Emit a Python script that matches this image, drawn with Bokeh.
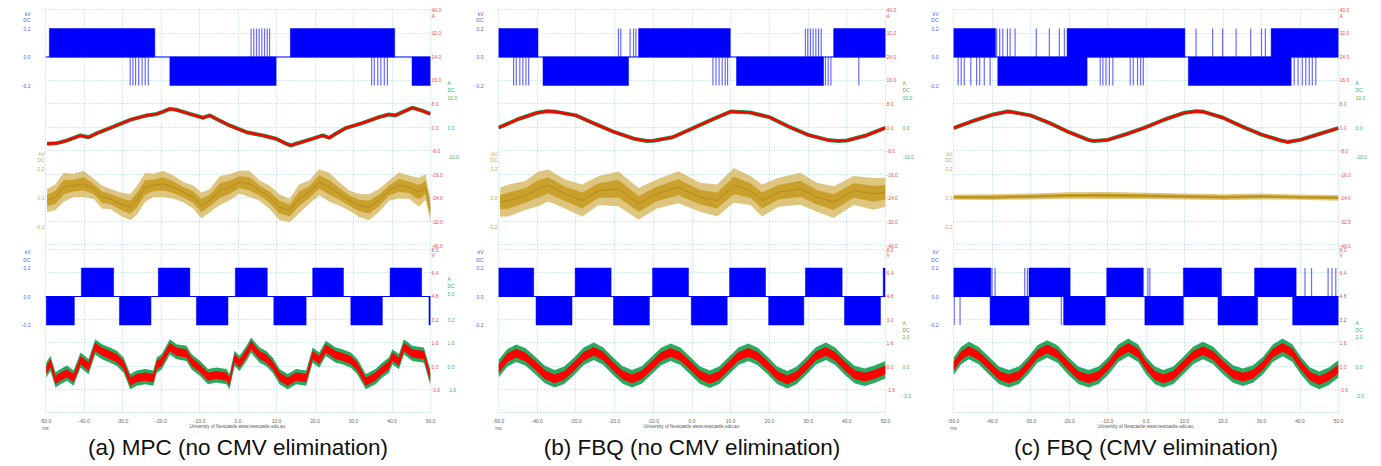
import numpy as np
from bokeh.plotting import figure
from bokeh.layouts import row
from bokeh.models import (Range1d, FixedTicker, PrintfTickFormatter, LinearAxis, Span, Grid,
                          Title)
from bokeh.embed import file_html
from bokeh.resources import INLINE

# ---------------------------------------------------------------- data
X_TICKS = [-50, -40, -30, -20, -10, 0, 10, 20, 30, 40, 50]
CAPTIONS = ["(a) MPC (no CMV elimination)", "(b) FBQ (no CMV elimination)",
            "(c) FBQ (CMV elimination)"]
KV_TICKS = [0.2, 0.0, -0.2]
RED_TOP_TICKS = [40.0, 32.0, 24.0, 16.0, 8.0, 0.0, -8.0, -16.0, -24.0, -32.0, -40.0]
RED_BOT_TICKS = [8.0, 6.4, 4.8, 3.2, 1.6, 0.0, -1.6, -3.2]
GREEN_TOP_TICKS = [10.0, 0.0, -10.0]
A_GREEN_BOT_TICKS = [5.0, 3.2, 1.6, 0.0, -1.6]
B_GREEN_BOT_TICKS = [2.0, 0.0, -2.0]
C_GREEN_BOT_TICKS = [2.0, 0.0, -2.0]

# ---- panel (a) MPC
A_CMV1_T0 = [-49.0, -17.7, 13.6, 45.2]
A_CMV1_T1 = [-21.6, 9.9, 40.7, 50.0]
A_CMV1_LV = [0.2, -0.2, 0.2, -0.2]
A_CMV1_SPK_T = [-28.0, -27.3, -26.6, -25.8, -24.9, -24.1, -23.3, 3.4, 4.1, 4.8, 5.5, 6.2, 6.9,
                7.6, 8.2, 34.7, 35.4, 36.3, 37.1, 38.0, 38.8]
A_CMV1_SPK_LV = [-0.2, -0.2, -0.2, -0.2, -0.2, -0.2, -0.2, 0.2, 0.2, 0.2, 0.2, 0.2, 0.2, 0.2, 0.2,
                 -0.2, -0.2, -0.2, -0.2, -0.2, -0.2]
A_IA_T = [-49.6, -47.0, -44.4, -40.9, -38.8, -36.6, -32.3, -28.0, -23.7, -21.1, -19.4, -17.7, -16.0,
          -12.5, -9.1, -7.3, -5.6, -2.2, 2.2, 6.5, 9.9, 12.5, 13.8, 15.1, 19.4, 22.0, 23.7, 25.4,
          28.0, 32.3, 36.6, 39.2, 40.9, 42.7, 45.3, 47.8, 50.0]
A_IA = [-5.5, -5.3, -4.4, -2.7, -3.3, -1.9, 0.3, 2.6, 4.1, 4.6, 5.4, 6.3, 6.0, 4.6, 3.3, 4.1, 2.9,
        0.7, -1.6, -2.7, -3.8, -5.5, -6.1, -5.5, -3.8, -2.7, -3.5, -2.1, -0.2, 1.5, 3.5, 4.4, 4.1,
        5.2, 6.7, 5.7, 4.6]
A_VG_T = [-49.6, -47.4, -45.3, -42.7, -40.1, -37.5, -35.3, -33.2, -30.6, -28.0, -26.3, -24.1, -22.0,
          -19.4, -16.8, -14.2, -11.6, -9.5, -7.3, -4.7, -2.2, 0.4, 3.0, 5.6, 8.2, 10.8, 13.4, 15.9,
          18.5, 21.1, 23.7, 26.3, 28.9, 31.5, 34.0, 36.6, 39.2, 41.8, 44.4, 47.0, 48.7, 50.0]
A_VG = [-0.021, 0.002, 0.071, 0.083, 0.094, 0.060, 0.002, -0.009, -0.044, -0.067,
        -0.021, 0.071, 0.083, 0.094, 0.071, 0.037, 0.002, -0.055, -0.021, 0.048,
        0.071, 0.106, 0.094, 0.048, 0.002, -0.067, -0.090, -0.009, 0.037, 0.106,
        0.071, 0.025, -0.021, -0.055, -0.067, -0.021, 0.048, 0.083, 0.071, 0.037,
        0.071, -0.090]
A_VG_SPREAD = [0.08, 0.09, 0.10, 0.08, 0.09, 0.07, 0.08, 0.07, 0.08, 0.09,
               0.10, 0.10, 0.08, 0.09, 0.08, 0.07, 0.08, 0.09, 0.08, 0.10,
               0.09, 0.08, 0.09, 0.07, 0.08, 0.09, 0.08, 0.10, 0.08, 0.09,
               0.10, 0.08, 0.07, 0.08, 0.09, 0.08, 0.07, 0.09, 0.08, 0.10,
               0.09, 0.08]
A_CMV2_T0 = [-49.8, -40.7, -30.8, -20.7, -10.8, -0.7, 9.3, 19.4, 29.3, 39.5, 49.6]
A_CMV2_T1 = [-42.5, -32.3, -22.6, -12.5, -2.6, 7.6, 17.7, 27.4, 37.5, 47.7, 50.0]
A_CMV2_LV = [-0.2, 0.2, -0.2, 0.2, -0.2, 0.2, -0.2, 0.2, -0.2, 0.2, -0.2]
A_CMV2_SPK_T = []
A_CMV2_SPK_LV = []
A_IB_T = [-49.8, -48.7, -47.4, -46.1, -44.4, -42.7, -40.9, -38.8, -37.1, -35.3,
          -33.2, -31.5, -29.7, -28.0, -26.3, -24.1, -22.0, -21.1, -19.8, -17.7,
          -16.0, -13.4, -12.1, -9.9, -7.8, -5.6, -3.0, -2.2, -0.9, 0.4,
          2.2, 3.4, 5.6, 7.3, 9.0, 10.8, 12.9, 15.1, 17.7, 19.4,
          21.1, 22.8, 25.4, 27.1, 29.3, 31.0, 33.2, 35.7, 37.5, 39.2,
          40.1, 41.8, 43.1, 45.3, 48.3, 50.0]
A_IB = [-0.24, 0.22, -0.92, -0.69, -0.46, -0.80, 0.44, -0.01, 1.35, 1.01,
        0.78, 0.56, 0.10, -1.03, -0.80, -0.69, -0.80, 0.10, 0.33, 1.35,
        1.01, 0.90, 0.33, -0.12, -0.69, -0.58, -0.69, -1.03, 0.56, 0.22,
        0.90, 1.46, 0.78, 0.56, 0.10, -0.69, -1.03, -0.69, -0.80, 0.78,
        0.44, 1.24, 0.78, 0.67, 0.44, -0.01, -1.03, -0.69, -0.24, 0.10,
        0.67, 0.33, 1.35, 0.90, 0.78, -0.80]
A_IB_RED_SPREAD = 0.28
A_IB_GREEN_SPREAD = 0.52

# ---- panel (b) FBQ, no CMV elimination
B_CMV1_T0 = [-50.0, -38.5, -13.8, 11.5, 36.6]
B_CMV1_T1 = [-39.8, -16.4, 9.9, 34.0, 50.0]
B_CMV1_LV = [0.2, -0.2, 0.2, -0.2, 0.2]
B_CMV1_SPK_T = [-46.1, -45.4, -44.5, -43.7, -42.9, -42.2, -19.0, -18.4, -16.0, -15.1, -14.5,
                5.4, 6.2, 7.0, 7.8, 8.6, 9.2, 29.3, 29.9, 30.6, 31.3, 32.0, 32.7, 33.4,
                34.5, 35.2, 35.9, 43.1]
B_CMV1_SPK_LV = [-0.2, -0.2, -0.2, -0.2, -0.2, -0.2, 0.2, 0.2, 0.2, 0.2, 0.2,
                 -0.2, -0.2, -0.2, -0.2, -0.2, -0.2, 0.2, 0.2, 0.2, 0.2, 0.2, 0.2, 0.2,
                 -0.2, -0.2, -0.2, -0.2]
B_IA_T = [-50, -45, -40, -37.5, -35, -30, -25, -20, -15, -11.6, -10, -5, 0, 5, 10, 15, 20, 25,
          30, 35, 37.9, 40, 45, 50]
B_IA = [-0.1, 2.8, 5.0, 5.5, 5.3, 4.1, 1.2, -1.6, -3.8, -4.6, -4.5, -3.3, -0.4, 2.6, 5.4, 5.1,
        3.5, 0.3, -2.5, -4.2, -4.6, -4.4, -2.7, -0.1]
B_VG_T = [-49.6, -47.4, -43.1, -39.7, -37.1, -32.8, -28.4, -24.1, -19.0, -13.8, -9.1, -3.5, 2.1,
          6.5, 10.8, 15.1, 18.1, 22.4, 28.0, 32.3, 36.6, 41.8, 47.0, 50.0]
B_VG = [-0.032, -0.021, 0.014, 0.060, 0.083, 0.025, -0.021, 0.048, 0.060, -0.044, 0.025, 0.071,
        0.002, -0.021, 0.083, 0.048, -0.021, 0.037, 0.060, 0.002, -0.032, 0.048, 0.025, 0.037]
B_VG_SPREAD = [0.10, 0.11, 0.10, 0.12, 0.11, 0.10, 0.11, 0.10, 0.12, 0.11, 0.10, 0.11, 0.10,
               0.11, 0.12, 0.10, 0.11, 0.10, 0.11, 0.10, 0.11, 0.10, 0.11, 0.10]
B_CMV2_T0 = [-50.0, -40.3, -30.2, -20.3, -10.2, -0.2, 9.7, 19.8, 29.3, 39.4, 49.4]
B_CMV2_T1 = [-40.9, -31.0, -20.9, -11.0, -0.9, 9.1, 19.0, 28.9, 38.8, 48.7, 49.9]
B_CMV2_LV = [0.2, -0.2, 0.2, -0.2, 0.2, -0.2, 0.2, -0.2, 0.2, -0.2, 0.2]
B_CMV2_SPK_T = []
B_CMV2_SPK_LV = []
B_IB_T = [-50, -47.7, -45.4, -43, -40.5, -38, -35.5, -33, -30.5, -28, -25.4, -23, -20.5, -18,
          -15.5, -13, -10.5, -8, -5.5, -3, -0.5, 2, 4.6, 7, 9.5, 12, 14.6, 17, 19.6, 22, 24.6,
          27, 29.6, 32, 34.6, 37, 39.6, 42, 44.6, 47, 50]
B_IB = [-0.16, 0.6, 0.91, 0.65, 0.07, -0.55, -0.84, -0.6, 0.0, 0.7, 1.04, 0.72, 0.05, -0.57,
        -0.84, -0.58, 0.05, 0.68, 0.97, 0.7, 0.07, -0.58, -0.88, -0.6, 0.05, 0.7, 0.97, 0.68,
        0.05, -0.6, -0.91, -0.62, 0.05, 0.72, 1.04, 0.7, 0.0, -0.55, -0.73, -0.55, -0.23]
B_IB_RED_SPREAD = 0.30
B_IB_GREEN_SPREAD = 0.60

# ---- panel (c) FBQ, CMV elimination
C_CMV1_T0 = [-50.0, -38.5, -20.5, 11.0, 32.5]
C_CMV1_T1 = [-39.1, -15.3, 10.1, 37.7, 50.0]
C_CMV1_LV = [0.2, -0.2, 0.2, -0.2, 0.2]
C_CMV1_SPK_T = [-48.8, -48.0, -47.2, -45.5, -44.0, -43.2, -42.0, -40.5, -38.8, -38.0, -37.2,
                -36.0, -35.3, -34.0, -28.5, -25.1, -22.5, -21.2, -11.9, -11.2, -10.4, -9.5,
                -8.6, -4.1, -3.3, -2.2, -1.4, -0.7, 13.0, 17.3, 19.9, 23.4, 27.2, 30.0, 31.0,
                38.5, 39.5, 40.6, 41.5, 42.4, 43.2, 44.1]
C_CMV1_SPK_LV = [-0.2, -0.2, -0.2, -0.2, -0.2, -0.2, -0.2, -0.2, 0.2, 0.2, 0.2,
                 0.2, 0.2, 0.2, 0.2, 0.2, 0.2, 0.2, -0.2, -0.2, -0.2, -0.2,
                 -0.2, -0.2, -0.2, -0.2, -0.2, -0.2, 0.2, 0.2, 0.2, 0.2, 0.2, 0.2, 0.2,
                 -0.2, -0.2, -0.2, -0.2, -0.2, -0.2, -0.2]
C_IA_T = [-50, -45, -40, -36, -35, -30, -25, -20, -15, -13.6, -10, -5, 0, 5, 10, 13.1, 15, 20,
          25, 30, 35, 36.8, 40, 45, 50]
C_IA = [-0.2, 2.2, 4.3, 5.4, 5.3, 4.1, 1.5, -1.6, -4.2, -4.6, -4.2, -2.2, 0.1, 2.8, 5.0, 5.5,
        5.3, 3.3, 0.3, -2.4, -4.4, -4.9, -4.2, -2.2, -0.2]
C_VG_T = [-50, -40, -30, -20, -10, 0, 10, 20, 30, 40, 50]
C_VG = [0.002, 0.002, 0.007, 0.014, 0.014, 0.011, 0.007, 0.002, 0.007, 0.002, -0.002]
C_VG_SPREAD = [0.018, 0.020, 0.020, 0.022, 0.024, 0.022, 0.020, 0.020, 0.020, 0.018, 0.020]
C_CMV2_T0 = [-50.0, -40.5, -30.4, -21.4, -10.2, -0.3, 9.7, 18.7, 28.2, 38.1]
C_CMV2_T1 = [-40.3, -30.4, -19.7, -10.6, -0.7, 9.7, 19.6, 29.0, 39.0, 50.0]
C_CMV2_LV = [0.2, -0.2, 0.2, -0.2, 0.2, -0.2, 0.2, -0.2, 0.2, -0.2]
C_CMV2_SPK_T = [-49.8, -48.3, -40.0, -39.2, -31.5, -30.8, -22.0, 0.5, 1.0, 41.3, 43.0, 47.3,
                48.3, 49.3]
C_CMV2_SPK_LV = [-0.2, -0.2, 0.2, 0.2, 0.2, 0.2, -0.2, 0.2, 0.2, 0.2, 0.2, 0.2, 0.2, 0.2]
C_IB_T = [-50, -48, -46, -43.5, -40.8, -38.2, -35.6, -33, -30.6, -28.2, -25.7, -23, -20.3, -17.6,
          -14.9, -12.3, -9.7, -7.2, -4.6, -2, 0, 2.3, 4.5, 7.1, 9.7, 12.3, 14.8, 17.4, 20, 22.6,
          25.2, 27.8, 30.4, 33, 35.5, 38, 40.2, 42.6, 45, 47.5, 50]
C_IB = [0.0, 0.75, 1.09, 0.75, 0.07, -0.6, -0.84, -0.6, 0.07, 0.85, 1.2, 0.85, 0.07, -0.6,
        -0.84, -0.6, 0.07, 0.9, 1.31, 0.9, 0.07, -0.6, -0.84, -0.6, 0.07, 0.77, 1.09, 0.77,
        0.07, -0.52, -0.73, -0.52, 0.07, 0.93, 1.31, 0.93, 0.07, -0.66, -0.95, -0.66, -0.16]
C_IB_RED_SPREAD = 0.30
C_IB_GREEN_SPREAD = 0.60

# ---------------------------------------------------------------- layout / style
FRAME_TOP, FRAME_BOT = 9, 412          # frame edges in canvas px (main y range)
H_GRID = [FRAME_TOP + 23.5 * i for i in range(11)] + [249 + 23.3 * j for j in range(8)]
SCALES = {  # name: (px of zero, px per unit)
    "cmv1": (56.5, 142.5),
    "ia": (127.0, 2.95),
    "vg": (197.0, 145.0),
    "cmv2": (296.0, 142.5),
    "ib": (366.0, 14.6),
}
BLUE, RED, GREEN, GOLD = "#0000ff", "#ff0000", "#12a150", "#c9a02c"
LBL_BLUE, LBL_RED, LBL_GREEN, LBL_GOLD = "#5b5bd6", "#e0504f", "#40b06c", "#c9a64c"
GRID_COLOR = "#a4d6dc"
FONT = "Liberation Sans"
SMALL = "5px"


def px(scale, v):
    z, k = SCALES[scale]
    return round(z - v * k, 2)


def fmt(ticks):
    return [f"{v:.1f}" for v in ticks]


def scale_ticks(scale, ticks, units, offsets):
    """tick label positions (canvas px) for one scale + stacked unit names above/below top tick"""
    pos = [px(scale, v) for v in ticks]
    txt = fmt(ticks)
    for u, o in zip(units, offsets):
        pos.append(round(pos[0] + o, 2))
        txt.append(u)
    return pos, txt


def label_axis(p, side, groups, color, standoff):
    pos, txt = [], []
    for g in groups:
        pos += g[0]
        txt += g[1]
    ax = LinearAxis(ticker=FixedTicker(ticks=pos), major_label_overrides=dict(zip(pos, txt)),
                    axis_line_color=None, major_tick_line_color=None,
                    minor_tick_line_color=None, major_tick_in=0, major_tick_out=0,
                    minor_tick_in=0, minor_tick_out=0, major_label_standoff=standoff,
                    major_label_text_font_size=SMALL, major_label_text_color=color,
                    major_label_text_font=FONT)
    p.add_layout(ax, side)


def draw_cmv(p, rng, t0, t1, lv, spk_t, spk_lv):
    p.add_layout(Span(location=0, dimension="width", y_range_name=rng,
                      line_color=BLUE, line_width=1))
    p.quad(left=t0, right=t1, bottom=[0] * len(t0), top=lv, y_range_name=rng,
           fill_color=BLUE, line_color=BLUE, line_width=0.5)
    if spk_t:
        p.segment(x0=spk_t, y0=[0] * len(spk_t), x1=spk_t, y1=spk_lv, y_range_name=rng,
                  line_color="#3a3aff", line_alpha=0.75, line_width=1.2)


def make_panel(idx, width, left, right, d):
    p = figure(width=width, height=466, x_range=Range1d(start=-50, end=50),
               y_range=Range1d(start=FRAME_BOT, end=FRAME_TOP), y_axis_location=None,
               output_backend="svg", toolbar_location=None,
               min_border_left=left, min_border_right=right, min_border_top=FRAME_TOP,
               min_border_bottom=466 - FRAME_BOT,
               outline_line_color=GRID_COLOR, outline_line_dash="1 2",
               background_fill_color="white", border_fill_color="white")
    p.extra_y_ranges = {n: Range1d(start=(z - FRAME_BOT) / k, end=(z - FRAME_TOP) / k)
                        for n, (z, k) in SCALES.items()}
    # grids
    p.xgrid.grid_line_color = GRID_COLOR
    p.xgrid.grid_line_dash = "1 2"
    p.ygrid.visible = False
    p.add_layout(Grid(dimension=1, ticker=FixedTicker(ticks=H_GRID),
                      grid_line_color=GRID_COLOR, grid_line_dash="1 2"))
    # x axis
    ax = p.xaxis[0]
    ax.ticker = FixedTicker(ticks=X_TICKS)
    ax.formatter = PrintfTickFormatter(format="%.1f")
    ax.major_label_overrides = {X_TICKS[0]: f"{X_TICKS[0]:.1f}\nms"}
    ax.axis_line_color = None
    ax.major_tick_line_color = None
    ax.minor_tick_line_color = None
    ax.major_tick_out = 0
    ax.major_tick_in = 0
    ax.minor_tick_out = 0
    ax.major_label_standoff = 5
    ax.major_label_text_font_size = SMALL
    ax.major_label_text_color = "#666666"
    ax.major_label_text_font = FONT
    ax.axis_label = "University of Newcastle  www.newcastle.edu.au"
    ax.axis_label_text_font_size = "4.6px"
    ax.axis_label_text_font_style = "normal"
    ax.axis_label_text_color = "#555555"
    ax.axis_label_text_font = FONT
    ax.axis_label_standoff = -10

    # traces
    draw_cmv(p, "cmv1", *d["cmv1"])
    t, ia = d["ia"]
    p.line(t, ia, y_range_name="ia", line_color=GREEN, line_width=4)
    p.line(t, ia, y_range_name="ia", line_color=RED, line_width=2.6)
    t, vg, sp = d["vg"]
    vg, sp = np.array(vg), np.array(sp)
    p.varea(x=t, y1=vg - sp, y2=vg + sp, y_range_name="vg", fill_color=GOLD, fill_alpha=0.6)
    p.varea(x=t, y1=vg - sp / 2, y2=vg + sp / 2, y_range_name="vg", fill_color=GOLD,
            fill_alpha=1.0)
    p.line(t, vg, y_range_name="vg", line_color="#b48a18", line_width=1)
    draw_cmv(p, "cmv2", *d["cmv2"])
    t, ib, rs, gs = d["ib"]
    ib = np.array(ib)
    p.varea(x=t, y1=ib - gs, y2=ib + gs, y_range_name="ib", fill_color=GREEN, fill_alpha=0.9)
    p.varea(x=t, y1=ib - rs, y2=ib + rs, y_range_name="ib", fill_color=RED, fill_alpha=1.0)

    # side labels as axes (inner axis first)
    label_axis(p, "left", [scale_ticks("vg", KV_TICKS, ["DC", "kV"], [-9, -15])], LBL_GOLD, 1)
    label_axis(p, "left", [scale_ticks("cmv1", KV_TICKS, ["DC", "kV"], [-9, -15]),
                           scale_ticks("cmv2", KV_TICKS, ["DC", "kV"], [-8.5, -16])],
               LBL_BLUE, 2)
    label_axis(p, "right", [scale_ticks("ia", RED_TOP_TICKS, ["A"], [6]),
                            scale_ticks("ib", RED_BOT_TICKS, ["V"], [5.5])], LBL_RED, 1)
    label_axis(p, "right", [scale_ticks("ia", GREEN_TOP_TICKS, ["DC", "A"], [-8, -15]),
                            scale_ticks("ib", d["gbot"], ["DC", "A"], [-7.5, -14.5])],
               LBL_GREEN, 2)

    # caption
    p.add_layout(Title(text=CAPTIONS[idx], align="center", text_font_size="22.5px",
                       text_font_style="normal", text_font=FONT, text_color="#111111",
                       standoff=2), "below")
    return p


PA = dict(cmv1=(A_CMV1_T0, A_CMV1_T1, A_CMV1_LV, A_CMV1_SPK_T, A_CMV1_SPK_LV),
          ia=(A_IA_T, A_IA), vg=(A_VG_T, A_VG, A_VG_SPREAD),
          cmv2=(A_CMV2_T0, A_CMV2_T1, A_CMV2_LV, A_CMV2_SPK_T, A_CMV2_SPK_LV),
          ib=(A_IB_T, A_IB, A_IB_RED_SPREAD, A_IB_GREEN_SPREAD), gbot=A_GREEN_BOT_TICKS)
PB = dict(cmv1=(B_CMV1_T0, B_CMV1_T1, B_CMV1_LV, B_CMV1_SPK_T, B_CMV1_SPK_LV),
          ia=(B_IA_T, B_IA), vg=(B_VG_T, B_VG, B_VG_SPREAD),
          cmv2=(B_CMV2_T0, B_CMV2_T1, B_CMV2_LV, B_CMV2_SPK_T, B_CMV2_SPK_LV),
          ib=(B_IB_T, B_IB, B_IB_RED_SPREAD, B_IB_GREEN_SPREAD), gbot=B_GREEN_BOT_TICKS)
PC = dict(cmv1=(C_CMV1_T0, C_CMV1_T1, C_CMV1_LV, C_CMV1_SPK_T, C_CMV1_SPK_LV),
          ia=(C_IA_T, C_IA), vg=(C_VG_T, C_VG, C_VG_SPREAD),
          cmv2=(C_CMV2_T0, C_CMV2_T1, C_CMV2_LV, C_CMV2_SPK_T, C_CMV2_SPK_LV),
          ib=(C_IB_T, C_IB, C_IB_RED_SPREAD, C_IB_GREEN_SPREAD), gbot=C_GREEN_BOT_TICKS)

pa = make_panel(0, 461, 45, 29, PA)
pb = make_panel(1, 455, 37, 31, PB)
pc = make_panel(2, 453, 37, 29, PC)

layout = row(pa, pb, pc)
open("out.html", "w").write(file_html(layout, INLINE))
